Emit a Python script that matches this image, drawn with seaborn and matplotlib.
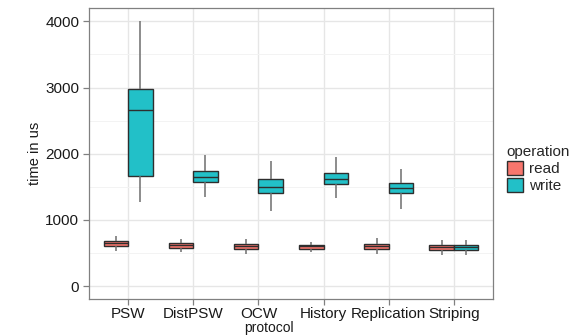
# %%
# Boxplot of read/write time per protocol (ggplot-like look)

import seaborn as sns
import matplotlib.pyplot as plt
import pandas as pd
import numpy as np
from matplotlib.ticker import MultipleLocator

# %%
# Five-number summaries (min, q1, median, q3, max)

protocols = ["PSW", "DistPSW", "OCW", "History", "Replication", "Striping"]
operations = ["read", "write"]

read_min = [529, 509, 479, 518, 479, 473]
read_q1 = [604, 579, 559, 563, 559, 548]
read_med = [650, 619, 600, 600, 600, 589]
read_q3 = [680, 650, 630, 625, 634, 615]
read_max = [755, 715, 705, 670, 720, 690]

write_min = [1274, 1340, 1137, 1325, 1168, 473]
write_q1 = [1662, 1571, 1409, 1541, 1400, 548]
write_med = [2654, 1641, 1500, 1612, 1476, 589]
write_q3 = [2976, 1742, 1611, 1702, 1551, 615]
write_max = [4000, 1979, 1888, 1944, 1767, 690]

# %%
# Long table: 5 points per box -> quartiles land exactly on q1/q3

rows = []
summaries = {
    "read": [read_min, read_q1, read_med, read_q3, read_max],
    "write": [write_min, write_q1, write_med, write_q3, write_max],
}
for op in operations:
    for i, p in enumerate(protocols):
        for stat in summaries[op]:
            rows.append({"protocol": p, "operation": op, "time": stat[i]})
df = pd.DataFrame(rows)

# %%
sns.set_theme(style="white")
plt.rcParams["font.family"] = ["Liberation Sans", "DejaVu Sans"]

fig = plt.figure(figsize=(5.83, 3.35), dpi=100)
ax = fig.add_axes([89 / 583, 1 - 299 / 335, 404 / 583, 291.5 / 335])

sns.boxplot(data=df, x="protocol", y="time", hue="operation", order=protocols,
            hue_order=operations, palette=["#F8766D", "#22C0C8"], saturation=1,
            width=0.75, gap=0, whis=np.inf, showcaps=False, linecolor="#2E2E2E",
            linewidth=1.0, whiskerprops={"color": "#6E6E6E", "lw": 1.1},
            ax=ax)

# grid after seaborn (it switches the categorical grid off)
ax.grid(True, which="major", axis="both", color="#E6E6E6", lw=1.0)
ax.grid(True, which="minor", axis="y", color="#F3F3F3", lw=0.7)
ax.set_axisbelow(True)

ax.set_xlim(-0.6, 5.6)
ax.set_ylim(-196, 4209)
ax.set_yticks([0, 1000, 2000, 3000, 4000])
ax.yaxis.set_minor_locator(MultipleLocator(500))

for s in ax.spines.values():
    s.set_color("#808080")
    s.set_linewidth(0.9)

ax.tick_params(axis="both", which="major", length=4, width=0.9, color="#808080",
               labelsize=11, labelcolor="#1A1A1A", pad=3, direction="out",
               bottom=True, left=True)
ax.tick_params(axis="x", pad=1.5)
ax.tick_params(axis="y", which="minor", length=0)

ax.set_xlabel("protocol", fontsize=10, color="#1A1A1A")
ax.xaxis.set_label_coords(0.446, -0.0755)
ax.set_ylabel("time in us", fontsize=10.5, color="#1A1A1A", labelpad=2)

leg = ax.legend(title="operation", loc="upper left",
                bbox_to_anchor=(499 / 583, 1 - 137 / 335),
                bbox_transform=fig.transFigure, frameon=False, fontsize=11,
                title_fontsize=11, borderpad=0, handlelength=1.1,
                handleheight=1.0, handletextpad=0.35, labelspacing=0.15)
leg._legend_box.align = "left"

fig.savefig("out.png", dpi=100, facecolor="white")
